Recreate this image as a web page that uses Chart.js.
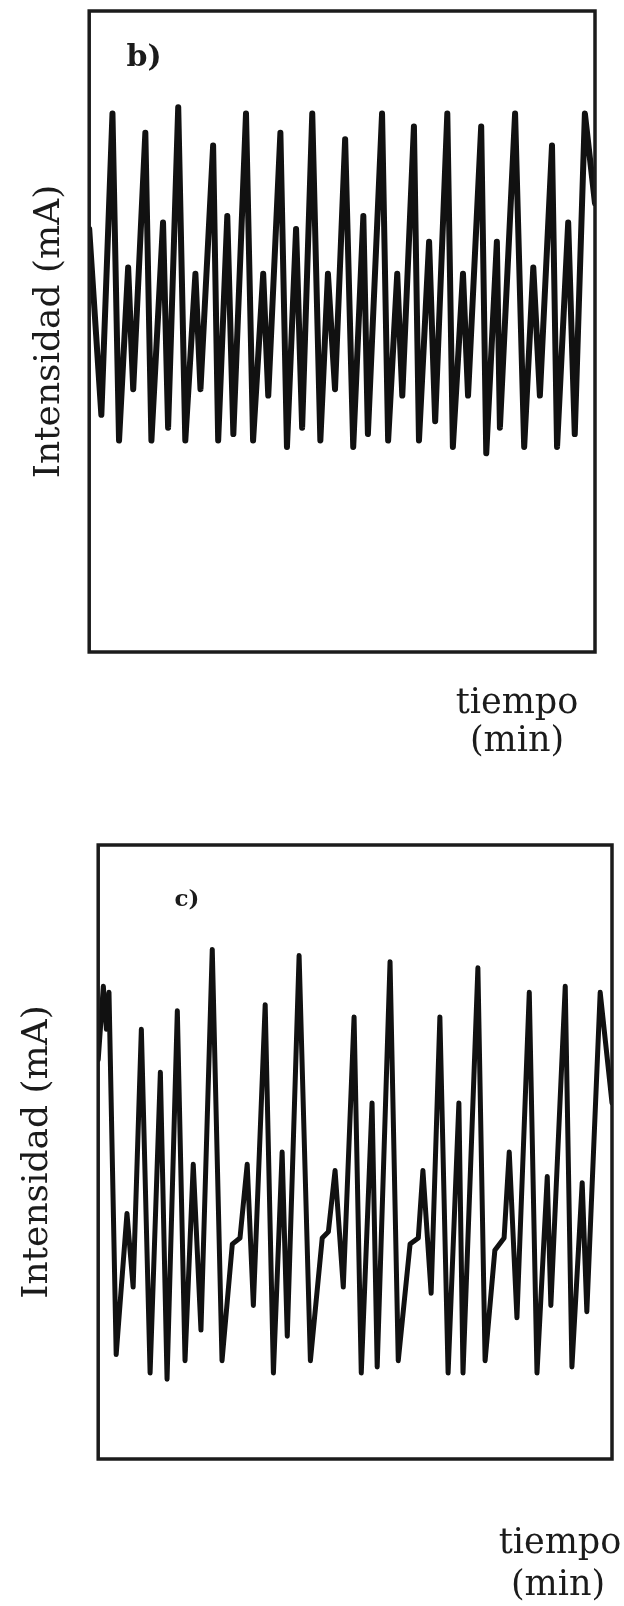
<!DOCTYPE html>
<html lang="es">
	<head>
		<meta charset="UTF-8" />
		<meta name="viewport" content="width=device-width, initial-scale=1.0" />
		<script src="https://cdn.jsdelivr.net/npm/chart.js@4.4.0/dist/chart.umd.min.js"></script>
		<style>
			body { margin: 0; background: #fff; }
			canvas { position: absolute; left: 0; }
		</style>
	</head>

	<body>
		<canvas id="chartB" width="624" height="780" style="top:0px"></canvas>
		<canvas id="chartC" width="624" height="826" style="top:780px"></canvas>

		<script>
			// panel b) - tiempo / intensidad (unidades relativas, 0-100)
			const tiempoB = [0, 2.4, 4.6, 5.9, 7.7, 8.7, 11.1, 12.3, 14.6, 15.6, 17.6, 19.0, 21.0, 22.0, 24.5, 25.5, 27.3, 28.5, 31.0, 32.4,
				34.4, 35.4, 37.8, 39.1, 40.9, 42.1, 44.1, 45.7, 47.2, 48.6, 50.6, 52.2, 54.2, 55.1, 57.9, 59.1, 60.9, 61.9, 64.2, 65.2,
				67.2, 68.4, 70.8, 71.9, 73.9, 74.9, 77.5, 78.5, 80.6, 81.2, 84.2, 86.0, 87.8, 89.1, 91.5, 92.5, 94.7, 96.0, 98.0, 100];
			const intensidadB = [66, 37, 84, 33, 60, 41, 81, 33, 67, 35, 85, 33, 59, 41, 79, 33, 68, 34, 84, 33,
				59, 40, 81, 32, 66, 35, 84, 33, 59, 41, 80, 32, 68, 34, 84, 33, 59, 40, 82, 33,
				64, 36, 84, 32, 59, 40, 82, 31, 64, 35, 84, 32, 60, 40, 79, 32, 67, 34, 84, 70];

			// panel c)
			const tiempoC = [0, 1.0, 1.6, 2.1, 3.5, 5.6, 6.2, 6.8, 8.4, 10.1, 12.1, 13.4, 15.4, 16.9, 18.5, 20.0, 22.2, 24.1, 26.1, 27.6,
				29.0, 30.2, 32.5, 34.1, 35.8, 36.8, 39.1, 41.3, 43.6, 44.8, 46.1, 47.7, 49.8, 51.2, 53.3, 54.3, 56.8, 58.4, 60.7, 62.3,
				63.2, 64.8, 66.5, 68.1, 70.2, 71.0, 73.9, 75.3, 77.2, 79.0, 80.0, 81.5, 83.9, 85.4, 87.4, 88.1, 90.9, 92.2, 94.2, 95.1,
				97.7, 100];
			const intensidadC = [65, 77, 70, 76, 17, 40, 34, 28, 70, 14, 63, 13, 73, 16, 48, 21, 83, 16, 35, 36,
				48, 25, 74, 14, 50, 20, 82, 16, 36, 37, 47, 28, 72, 14, 58, 15, 81, 16, 35, 36,
				47, 27, 72, 14, 58, 14, 80, 16, 34, 36, 50, 23, 76, 14, 46, 25, 77, 15, 45, 24,
				76, 58];

			const yLabel = 'Intensidad (mA)';
			const xLabel = ['tiempo', '(min)'];
			const serif = '"DejaVu Serif", "Liberation Serif", serif';
			const ink = '#1b1b1b';

			// box round the plot area + the small texts
			const marco = {
				id: 'marco',
				afterDraw(chart, args, opts) {
					const { ctx, chartArea: a } = chart;
					ctx.save();
					ctx.strokeStyle = ink;
					ctx.lineWidth = opts.width;
					ctx.strokeRect(a.left, a.top, a.right - a.left, a.bottom - a.top);
					ctx.fillStyle = ink;
					ctx.textAlign = 'center';
					ctx.textBaseline = 'alphabetic';
					opts.textos.forEach((t) => {
						ctx.font = t.font;
						ctx.fillText(t.text, t.x, t.y);
					});
					ctx.restore();
				},
			};

			function makeChart(id, xs, ys, cfg) {
				const ctx = document.getElementById(id).getContext('2d');
				return new Chart(ctx, {
					type: 'line',
					data: {
						datasets: [
							{
								data: xs.map((x, i) => ({ x: x, y: ys[i] })),
								borderColor: '#111',
								borderWidth: cfg.lineWidth,
								borderJoinStyle: 'round',
								borderCapStyle: 'round',
								pointRadius: 0,
								tension: 0,
								fill: false,
							},
						],
					},
					options: {
						responsive: false,
						animation: false,
						devicePixelRatio: 1,
						layout: { padding: cfg.padding },
						scales: {
							x: { type: 'linear', min: 0, max: 100, display: false },
							y: {
								min: 0,
								max: 100,
								ticks: { display: false },
								grid: { display: false, drawTicks: false },
								border: { display: false },
								title: {
									display: true,
									text: yLabel,
									color: ink,
									font: { family: serif, size: 36, lineHeight: 1.2 },
									padding: cfg.titlePad,
								},
							},
						},
						plugins: {
							legend: { display: false },
							tooltip: { enabled: false },
							marco: { width: 3.5, textos: cfg.textos },
						},
					},
					plugins: [marco],
				});
			}

			makeChart('chartB', tiempoB, intensidadB, {
				lineWidth: 6,
				padding: { left: 0, right: 29, top: 11, bottom: 128 },
				titlePad: { top: 28, bottom: 18 },
				textos: [
					{ text: 'b)', x: 144, y: 66, font: 'bold 30px ' + serif },
					{ text: xLabel[0], x: 517, y: 713, font: '35px ' + serif },
					{ text: xLabel[1], x: 517, y: 751, font: '35px ' + serif },
				],
			});

			makeChart('chartC', tiempoC, intensidadC, {
				lineWidth: 5,
				padding: { left: 0, right: 12, top: 65, bottom: 147 },
				titlePad: { top: 16, bottom: 39 },
				textos: [
					{ text: 'c)', x: 187, y: 126, font: 'bold 23px ' + serif },
					{ text: xLabel[0], x: 560, y: 773, font: '35px ' + serif },
					{ text: xLabel[1], x: 558, y: 815, font: '35px ' + serif },
				],
			});
		</script>
	</body>
</html>
